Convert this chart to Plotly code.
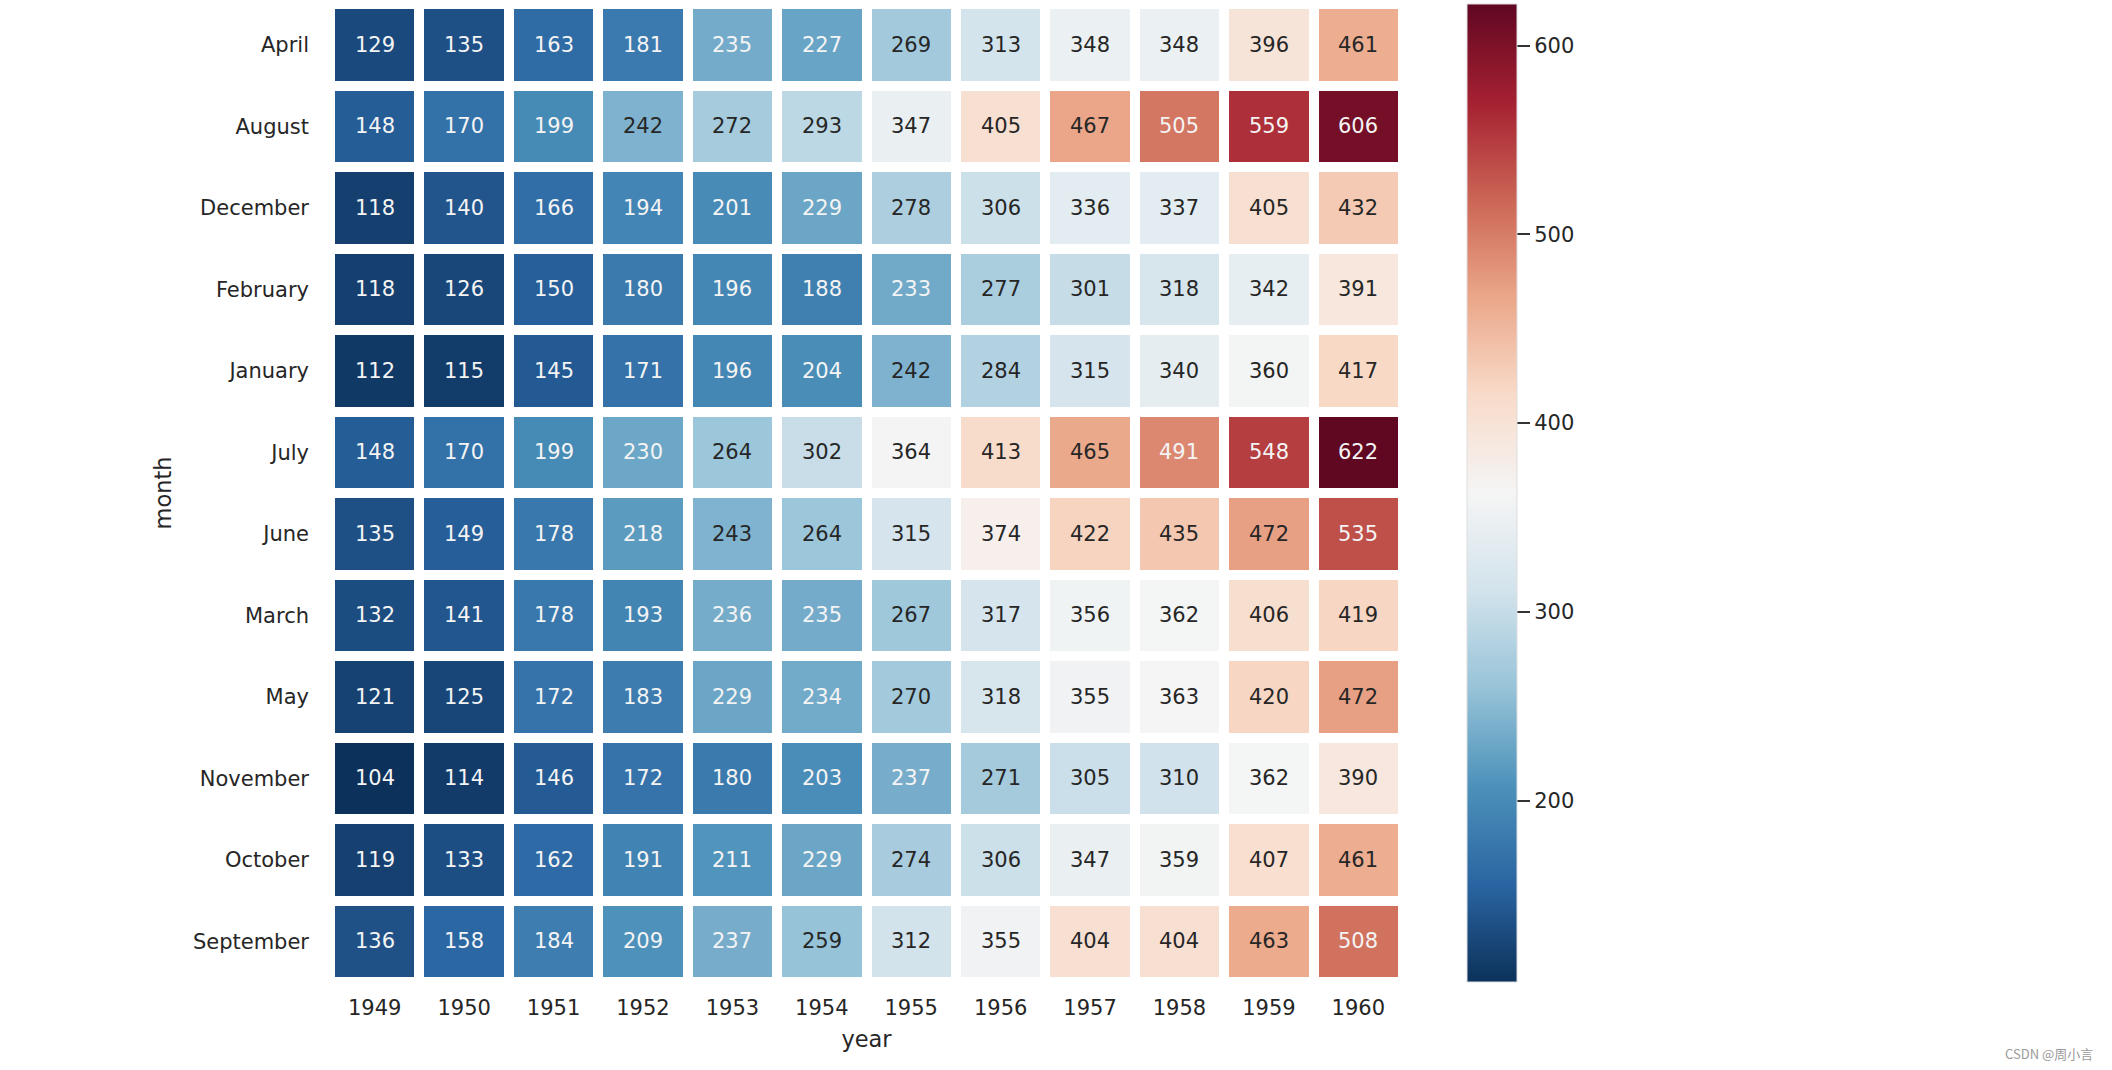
import plotly.graph_objects as go

years = [1949, 1950, 1951, 1952, 1953, 1954, 1955, 1956, 1957, 1958, 1959, 1960]
months = ["April", "August", "December", "February", "January", "July", "June",
          "March", "May", "November", "October", "September"]

april = [129, 135, 163, 181, 235, 227, 269, 313, 348, 348, 396, 461]
august = [148, 170, 199, 242, 272, 293, 347, 405, 467, 505, 559, 606]
december = [118, 140, 166, 194, 201, 229, 278, 306, 336, 337, 405, 432]
february = [118, 126, 150, 180, 196, 188, 233, 277, 301, 318, 342, 391]
january = [112, 115, 145, 171, 196, 204, 242, 284, 315, 340, 360, 417]
july = [148, 170, 199, 230, 264, 302, 364, 413, 465, 491, 548, 622]
june = [135, 149, 178, 218, 243, 264, 315, 374, 422, 435, 472, 535]
march = [132, 141, 178, 193, 236, 235, 267, 317, 356, 362, 406, 419]
may = [121, 125, 172, 183, 229, 234, 270, 318, 355, 363, 420, 472]
november = [104, 114, 146, 172, 180, 203, 237, 271, 305, 310, 362, 390]
october = [119, 133, 162, 191, 211, 229, 274, 306, 347, 359, 407, 461]
september = [136, 158, 184, 209, 237, 259, 312, 355, 404, 404, 463, 508]

z = [april, august, december, february, january, july, june, march, may, november, october, september]

# matplotlib RdBu (reversed)
rdbu = ["#67001f", "#b2182b", "#d6604d", "#f4a582", "#fddbc7", "#f7f7f7",
        "#d1e5f0", "#92c5de", "#4393c3", "#2166ac", "#053061"]
rdbu_r = rdbu[::-1]
n = len(rdbu_r)

flat = [v for row in z for v in row]
vmin, vmax = min(flat), max(flat)


def hex2rgb(h):
    h = h.lstrip("#")
    return [int(h[i:i + 2], 16) / 255 for i in (0, 2, 4)]


def cmap(v):
    t = (v - vmin) / (vmax - vmin)
    pos = t * (n - 1)
    i = min(int(pos), n - 2)
    f = pos - i
    a, b = hex2rgb(rdbu_r[i]), hex2rgb(rdbu_r[i + 1])
    return [a[k] + (b[k] - a[k]) * f for k in range(3)]


def lum(rgb):
    lin = [c / 12.92 if c <= 0.03928 else ((c + 0.055) / 1.055) ** 2.4 for c in rgb]
    return 0.2126 * lin[0] + 0.7152 * lin[1] + 0.0722 * lin[2]


def muted(h):
    # slight desaturation to match the rendered reference tones
    r, g, b = [c * 255 for c in hex2rgb(h)]
    L = 0.3 * r + 0.59 * g + 0.11 * b
    out = [max(0, min(255, round((0.88 * c + 0.12 * L) * 0.98 + 3))) for c in (r, g, b)]
    return "rgb({},{},{})".format(*out)


colorscale = [[i / (n - 1), muted(c)] for i, c in enumerate(rdbu_r)]

fig = go.Figure()
fig.add_trace(go.Heatmap(
    z=z, x=years, y=months, colorscale=colorscale, zmin=vmin, zmax=vmax,
    xgap=10, ygap=10, hoverongaps=False,
    colorbar=dict(
        thickness=50, thicknessmode="pixels", len=978, lenmode="pixels",
        x=(1467 - 330) / 1073, xanchor="left", xpad=0, ypad=0,
        y=0.5, yanchor="middle",
        outlinewidth=1, outlinecolor="#dddddd",
        tickvals=[200, 300, 400, 500, 600], ticks="outside", ticklen=13, tickwidth=2,
        tickcolor="#333333",
        tickfont=dict(family="DejaVu Sans", size=21, color="#262626"),
    ),
))

annotations = []
for r, m in enumerate(months):
    for c, yv in enumerate(years):
        v = z[r][c]
        col = "#262626" if lum(cmap(v)) > 0.408 else "#f4f4f4"
        annotations.append(dict(x=yv, y=m, text=str(v), showarrow=False,
                                font=dict(family="DejaVu Sans", size=21, color=col)))

annotations.append(dict(xref="paper", yref="paper", x=(2095 - 330) / 1073, y=-(1053 - 982) / 978,
                        xanchor="right", yanchor="middle", text="CSDN @周小言", showarrow=False,
                        font=dict(family="Noto Sans CJK SC", size=13, color="#9a9a9a")))

fig.update_layout(
    width=2112, height=1070,
    margin=dict(l=330, r=709, t=4, b=88, pad=0),
    paper_bgcolor="white", plot_bgcolor="white",
    font=dict(family="DejaVu Sans", color="#262626"),
    annotations=annotations,
    xaxis=dict(title=dict(text="year", font=dict(size=22.5), standoff=12),
               tickmode="array", tickvals=years, ticktext=[str(y) for y in years],
               range=[years[0] - 0.5, years[-1] + 0.5],
               tickfont=dict(size=21), ticks="", ticklabelstandoff=11, showgrid=False,
               zeroline=False, showline=False),
    yaxis=dict(type="category", autorange="reversed",
               title=dict(text="month", font=dict(size=22.5), standoff=15),
               tickfont=dict(size=21), ticks="", ticklabelstandoff=20, showgrid=False,
               zeroline=False, showline=False),
)

fig.write_html("out.html")
